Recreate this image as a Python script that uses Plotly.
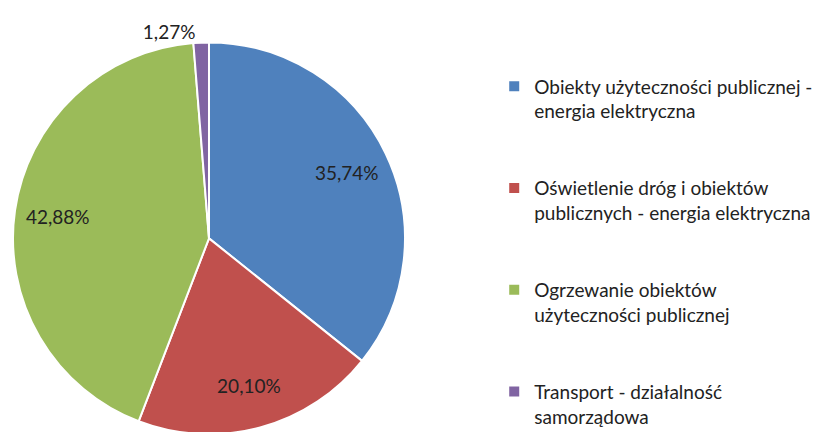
import plotly.graph_objects as go

labels = [
    "Obiekty użyteczności publicznej -<br>energia elektryczna",
    "Oświetlenie dróg i obiektów<br>publicznych - energia elektryczna",
    "Ogrzewanie obiektów<br>użyteczności publicznej",
    "Transport - działalność<br>samorządowa",
]
values = [35.74, 20.10, 42.88, 1.27]
colors = ["#4F81BD", "#C0504D", "#9BBB59", "#8064A2"]
text_positions = ["inside", "inside", "inside", "outside"]

legend_labels = [l + "<br>&nbsp;<br>&nbsp;" for l in labels[:-1]] + [labels[-1]]

domain = dict(x=[0.0, 0.47], y=[0.0, 0.921])

common = dict(
    labels=legend_labels,
    values=values,
    sort=False,
    direction="clockwise",
    rotation=0,
    domain=domain,
    hoverinfo="label+value",
)

# coloured slices (legend source)
base = go.Pie(
    marker=dict(colors=colors, line=dict(color="white", width=2)),
    textinfo="none",
    showlegend=True,
    **common,
)

# transparent ring that carries the labels at ~0.78 of the radius
ring = go.Pie(
    hole=0.56,
    marker=dict(colors=["rgba(0,0,0,0)"] * len(values), line=dict(width=0)),
    texttemplate="%{value:.2f}%",
    textposition=text_positions,
    insidetextorientation="horizontal",
    textfont=dict(family="Lato", size=19, color="#222222"),
    showlegend=False,
    **common,
)

fig = go.Figure([base, ring])

fig.update_layout(
    width=839,
    height=432,
    margin=dict(l=0, r=0, t=0, b=0),
    paper_bgcolor="white",
    plot_bgcolor="white",
    separators=", ",
    font=dict(family="Lato", color="#222222"),
    legend=dict(
        x=0.577,
        y=1 - 60 / 432,
        xanchor="left",
        yanchor="top",
        valign="top",
        font=dict(family="Lato", size=19, color="#222222"),
        bgcolor="rgba(0,0,0,0)",
    ),
    showlegend=True,
)

fig.write_html("out.html")
